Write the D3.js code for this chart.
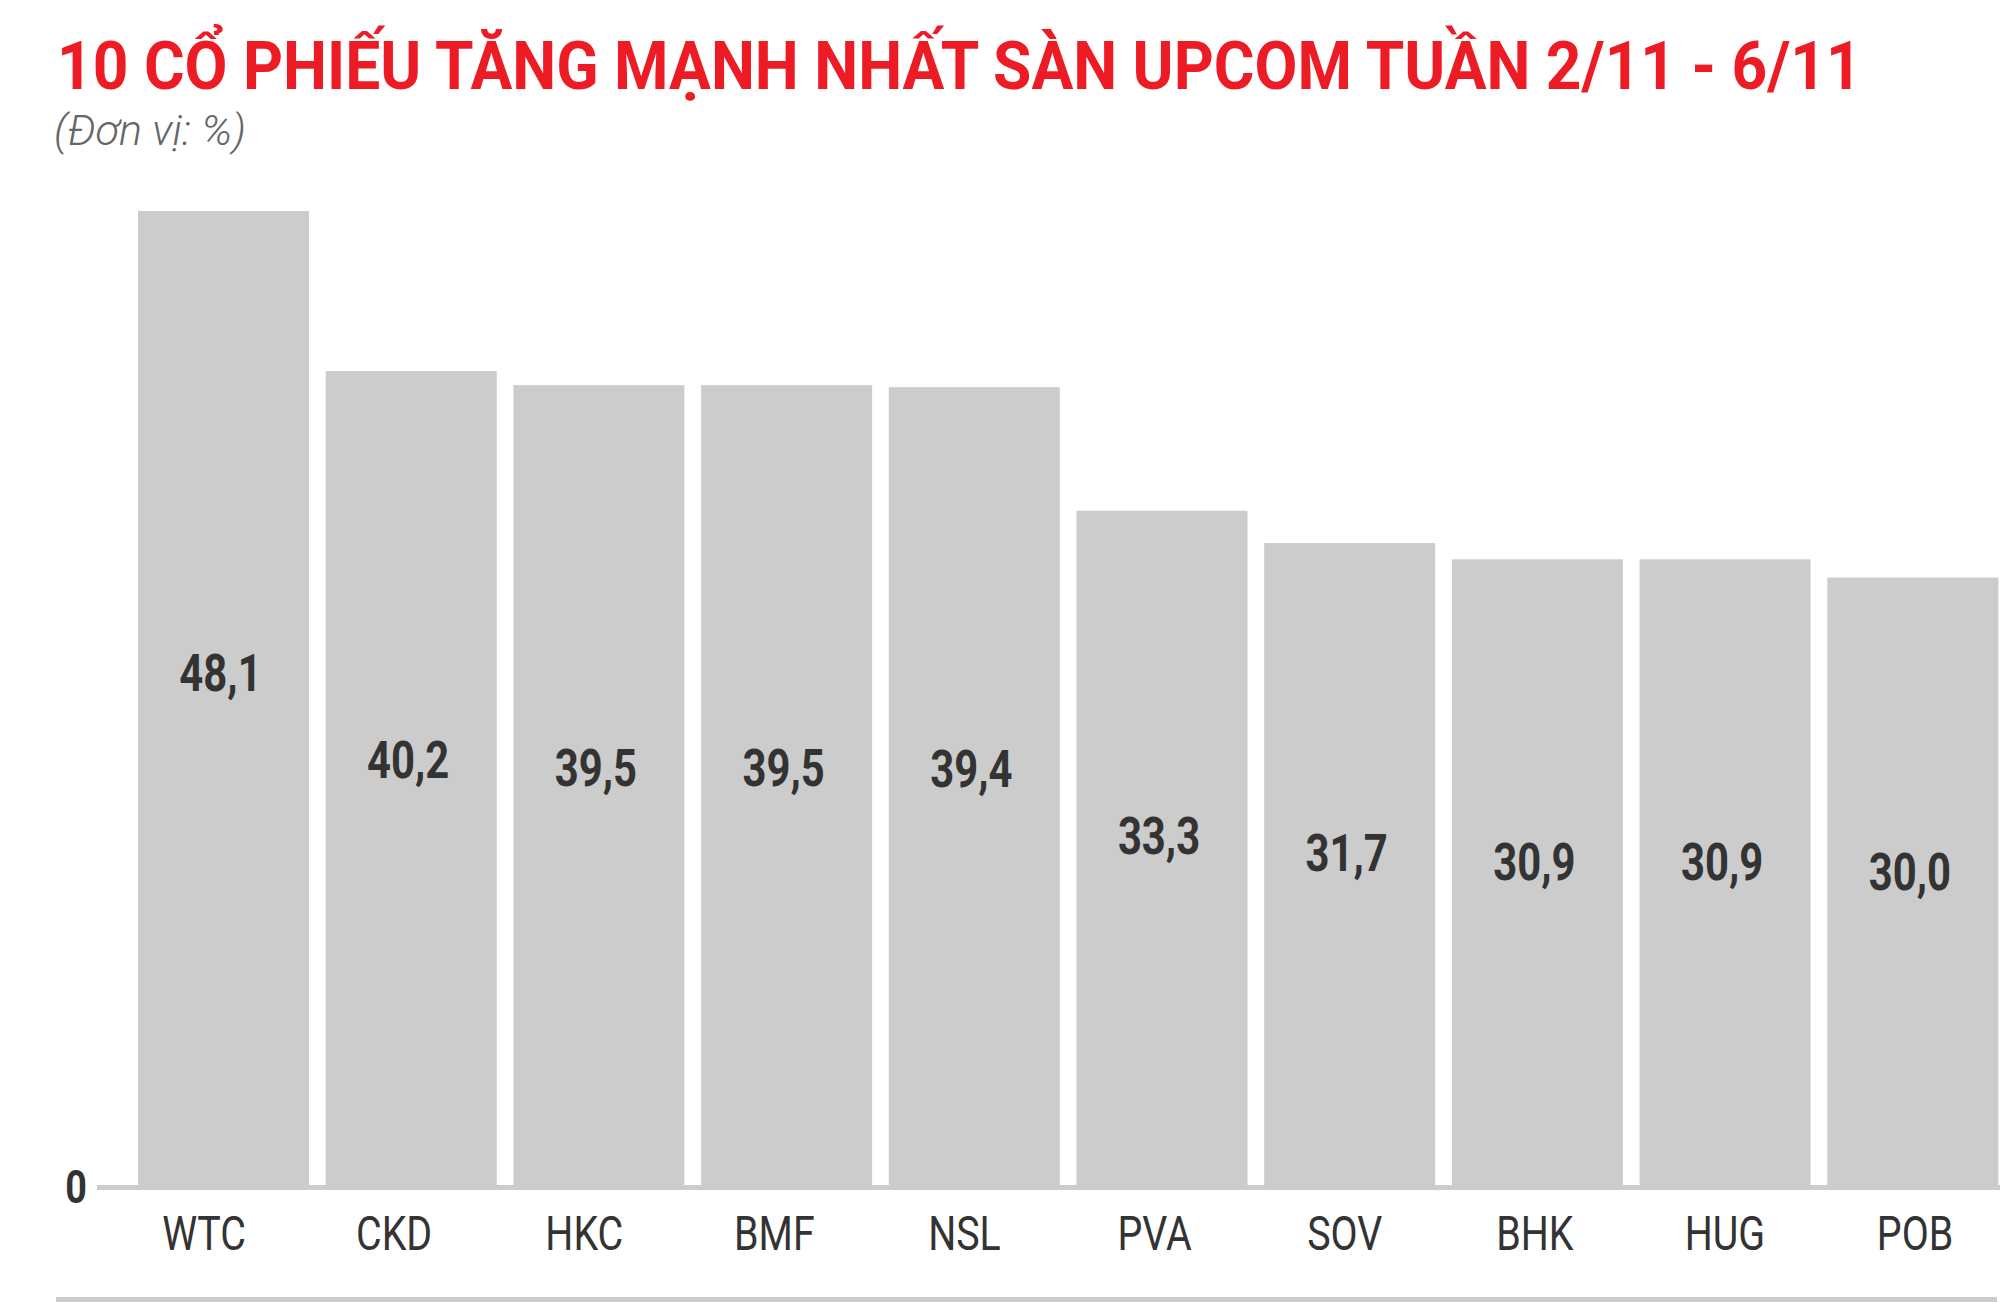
<!DOCTYPE html>
<html>
<head>
<meta charset="utf-8">
<script src="https://cdn.jsdelivr.net/npm/d3@7"></script>
<style>
  html, body { margin: 0; padding: 0; background: #fff; }
  svg { display: block; }
</style>
</head>
<body>
<svg id="chart" width="2000" height="1302"></svg>
<script>
const categories = ["WTC", "CKD", "HKC", "BMF", "NSL", "PVA", "SOV", "BHK", "HUG", "POB"];
const values = [48.1, 40.2, 39.5, 39.5, 39.4, 33.3, 31.7, 30.9, 30.9, 30.0];
const valueLabels = ["48,1", "40,2", "39,5", "39,5", "39,4", "33,3", "31,7", "30,9", "30,9", "30,0"];
const yTickLabels = ["0"];
const titleText = "10 CỔ PHIẾU TĂNG MẠNH NHẤT SÀN UPCOM TUẦN 2/11 - 6/11";
const subtitleText = "(Đơn vị: %)";

const svg = d3.select("#chart");
const FONT = "Roboto, 'Noto Sans', sans-serif";
const CX = 0.82; // condensed horizontal scale

const baseY = 1185;
const x = d3.scaleBand().domain(categories).range([138, 1998.3]).paddingInner(0.089).paddingOuter(0);
const y = d3.scaleLinear().domain([0, d3.max(values)]).range([baseY, 211]);
const xLab = d3.scalePoint().domain(categories).range([204, 1915]);

// Title
const title = svg.append("text")
  .attr("font-family", FONT).attr("font-weight", 700).attr("font-size", 66)
  .attr("fill", "#ED1C24").attr("text-anchor", "start")
  .text(titleText);
const tw = title.node().getComputedTextLength();
title.attr("transform", `translate(57,89) scale(${1805 / tw},1)`);

// Subtitle
const sub = svg.append("text")
  .attr("font-family", FONT).attr("font-weight", 300).attr("font-style", "italic")
  .attr("font-size", 43).attr("fill", "#666")
  .text(subtitleText);
const sw = sub.node().getComputedTextLength();
sub.attr("transform", `translate(54,145) scale(${192 / sw},1)`);

// Bars
svg.append("g").selectAll("rect").data(values).join("rect")
  .attr("x", (d, i) => x(categories[i]))
  .attr("y", d => y(d))
  .attr("width", x.bandwidth())
  .attr("height", d => baseY - y(d))
  .attr("fill", "#CCCCCC");

// Axis baseline
svg.append("rect").attr("x", 97).attr("y", baseY).attr("width", 2000 - 97).attr("height", 5).attr("fill", "#CCCCCC");

// Y tick "0"
svg.append("g").selectAll("text").data(yTickLabels).join("text")
  .attr("font-family", FONT).attr("font-weight", 700).attr("font-size", 46)
  .attr("fill", "#333").attr("text-anchor", "end")
  .attr("transform", d => `translate(87,${y(+d) + 18}) scale(${CX},1)`)
  .text(d => d);

// Value labels
svg.append("g").selectAll("text").data(values).join("text")
  .attr("font-family", FONT).attr("font-weight", 700).attr("font-size", 51)
  .attr("fill", "#333").attr("text-anchor", "middle")
  .attr("transform", (d, i) => `translate(${x(categories[i]) + x.bandwidth() / 2 - 3},${y(d * 0.543) + 35}) scale(${CX},1)`)
  .text((d, i) => valueLabels[i]);

// Category labels
svg.append("g").selectAll("text").data(categories).join("text")
  .attr("font-family", FONT).attr("font-weight", 400).attr("font-size", 48)
  .attr("fill", "#333").attr("text-anchor", "middle")
  .attr("transform", d => `translate(${xLab(d)},1250) scale(${CX},1)`)
  .text(d => d);

// Bottom rule
svg.append("rect").attr("x", 56).attr("y", 1297).attr("width", 1941).attr("height", 5).attr("fill", "#CCCCCC");
</script>
</body>
</html>
